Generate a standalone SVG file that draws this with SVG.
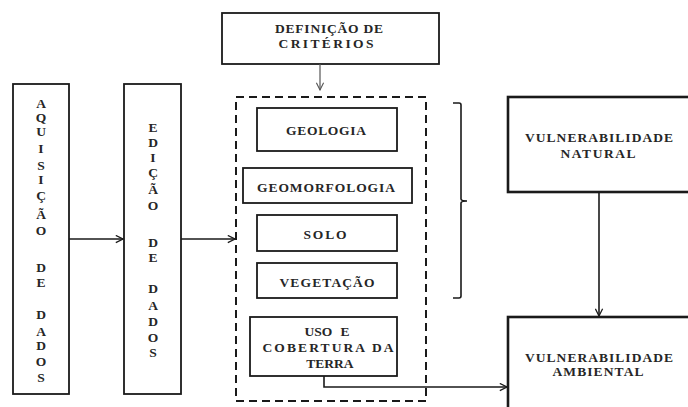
<svg xmlns="http://www.w3.org/2000/svg" width="688" height="407" viewBox="0 0 688 407">
<defs>
<style>
.box{fill:#fff;stroke:#1a1a1a;stroke-width:1.8}
.thick{fill:#fff;stroke:#1a1a1a;stroke-width:2.6}
.t{font-family:"Liberation Serif","Times New Roman",serif;font-weight:bold;font-size:13.5px;fill:#262626;text-anchor:middle}
.l{font-family:"Liberation Serif","Times New Roman",serif;font-weight:bold;font-size:13.5px;fill:#262626;text-anchor:middle}
.c{fill:none;stroke:#1a1a1a;stroke-width:1.6}
</style>
<marker id="ah" viewBox="0 0 10 10" refX="9" refY="5" markerWidth="9" markerHeight="9" markerUnits="userSpaceOnUse" orient="auto">
<path d="M1,1 L9,5 L1,9" fill="none" stroke="#1a1a1a" stroke-width="1.4"/>
</marker>
<marker id="ahg" viewBox="0 0 10 10" refX="9" refY="5" markerWidth="9" markerHeight="9" markerUnits="userSpaceOnUse" orient="auto">
<path d="M1,1 L9,5 L1,9" fill="none" stroke="#555" stroke-width="1.2"/>
</marker>
</defs>
<rect width="688" height="407" fill="#fff"/>

<g id="criterios">
<rect class="box" x="222" y="13" width="217" height="51"/>
<text class="t" x="329" y="33" textLength="108" lengthAdjust="spacing">DEFINIÇÃO DE</text>
<text class="t" x="326" y="48" textLength="95" lengthAdjust="spacing">CRITÉRIOS</text>
</g>

<g id="aquisicao">
<rect class="box" x="13" y="84" width="56" height="310"/>
<g class="l">
<text x="41" y="108">A</text>
<text x="41" y="122">Q</text>
<text x="41" y="136">U</text>
<text x="41" y="153">I</text>
<text x="41" y="170">S</text>
<text x="41" y="184">I</text>
<text x="41" y="200">Ç</text>
<text x="41" y="219">Ã</text>
<text x="41" y="235">O</text>
<text x="41" y="272">D</text>
<text x="41" y="287">E</text>
<text x="41" y="319">D</text>
<text x="41" y="336">A</text>
<text x="41" y="350">D</text>
<text x="41" y="366">O</text>
<text x="41" y="382">S</text>
</g>
</g>

<g id="edicao">
<rect class="box" x="124" y="84" width="57" height="310"/>
<g class="l">
<text x="153" y="132">E</text>
<text x="153" y="147">D</text>
<text x="153" y="162">I</text>
<text x="153" y="177">Ç</text>
<text x="153" y="194">Ã</text>
<text x="153" y="210">O</text>
<text x="153" y="247">D</text>
<text x="153" y="262">E</text>
<text x="153" y="293">D</text>
<text x="153" y="310">A</text>
<text x="153" y="326">D</text>
<text x="153" y="342">O</text>
<text x="153" y="357">S</text>
</g>
</g>

<g id="grupo">
<rect x="236" y="97" width="190" height="304" fill="none" stroke="#1a1a1a" stroke-width="2" stroke-dasharray="8,5"/>
</g>

<g id="geologia">
<rect class="box" x="257" y="108" width="140" height="43"/>
<text class="t" x="326" y="135" textLength="80" lengthAdjust="spacing">GEOLOGIA</text>
</g>
<g id="geomorfologia">
<rect class="box" x="243" y="168" width="169" height="35"/>
<text class="t" x="326" y="192" textLength="138" lengthAdjust="spacing">GEOMORFOLOGIA</text>
</g>
<g id="solo">
<rect class="box" x="257" y="215" width="140" height="36"/>
<text class="t" x="325" y="239" textLength="43" lengthAdjust="spacing">SOLO</text>
</g>
<g id="vegetacao">
<rect class="box" x="257" y="263" width="140" height="35"/>
<text class="t" x="327" y="287" textLength="95" lengthAdjust="spacing">VEGETAÇÃO</text>
</g>
<g id="uso">
<rect class="box" x="250" y="317" width="147" height="59"/>
<text class="t" x="327" y="336" style="word-spacing:5px">USO E</text>
<text class="t" x="328" y="352" textLength="131" lengthAdjust="spacing">COBERTURA DA</text>
<text class="t" x="330" y="368">TERRA</text>
</g>

<g id="chave">
<path d="M453,103 L459,103 Q461,103 461,105 L461,199 Q461,201 467,201 Q461,201 461,203 L461,296 Q461,298 459,298 L453,298" fill="none" stroke="#1a1a1a" stroke-width="1.6"/>
</g>

<g id="natural">
<rect class="thick" x="508" y="97" width="200" height="95"/>
<text class="t" x="599" y="142" textLength="148" lengthAdjust="spacing">VULNERABILIDADE</text>
<text class="t" x="598" y="158" textLength="75" lengthAdjust="spacing">NATURAL</text>
</g>
<g id="ambiental">
<rect class="thick" x="508" y="317" width="200" height="110"/>
<text class="t" x="599" y="362" textLength="148" lengthAdjust="spacing">VULNERABILIDADE</text>
<text class="t" x="598" y="376" textLength="91" lengthAdjust="spacing">AMBIENTAL</text>
</g>

<g id="conectores">
<line x1="320" y1="64" x2="320" y2="90" stroke="#555" stroke-width="1.2" marker-end="url(#ahg)"/>
<line class="c" x1="69" y1="239" x2="123" y2="239" marker-end="url(#ah)"/>
<line class="c" x1="181" y1="239" x2="235" y2="239" marker-end="url(#ah)"/>
<polyline class="c" points="324,376 324,387 507,387" marker-end="url(#ah)"/>
<line class="c" x1="599" y1="192" x2="599" y2="316" marker-end="url(#ah)"/>
</g>
</svg>
